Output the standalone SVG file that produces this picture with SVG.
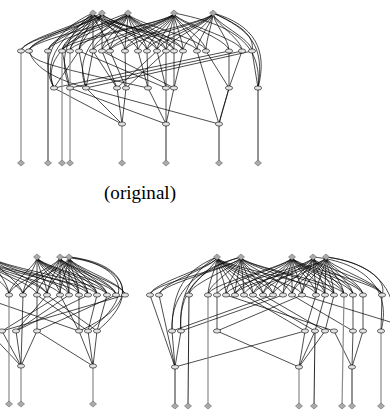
<svg xmlns="http://www.w3.org/2000/svg" xmlns:xlink="http://www.w3.org/1999/xlink" width="390" height="411" viewBox="0 0 390 411">
<style>
.k{fill:none;stroke:#000;stroke-width:0.7}
.g{fill:none;stroke:#8a8a8a;stroke-width:1.2}
.b{fill:none;stroke:#111;stroke-width:0.9}
.cap{font-family:"Liberation Serif","DejaVu Serif",serif;font-size:19px;fill:#000}
</style>
<defs>
<ellipse id="e" cx="0" cy="0" rx="3.6" ry="2.1" fill="#e2e2e2" stroke="#000" stroke-width="0.6"/>
<polygon id="d" points="0,-3 3.5,0 0,3 -3.5,0" fill="#aaa" stroke="#666" stroke-width="0.6"/>
</defs>
<rect width="390" height="411" fill="#fff"/>
<g id="connectors">
<!-- top graph -->
<path class="k" d="M93,13C93,22 21,39 21,51M93,13C93,22 29,39 29,51M93,13C93,22 48,39 48,51M93,13C93,22 62,39 62,51M93,13C93,22 70,39 70,51M93,13C93,22 79,39 79,51M93,13C93,22 93,39 93,51M93,13C93,22 110,39 110,51M93,13C93,22 138,39 138,51M93,13C93,22 157,39 157,51M93,13C93,22 166,39 166,51M93,13C93,22 197,39 197,51"/>
<path class="k" d="M102,13C102,22 21,39 21,51M102,13C102,22 29,39 29,51M102,13C102,22 48,39 48,51M102,13C102,22 62,39 62,51M102,13C102,22 70,39 70,51M102,13C102,22 79,39 79,51M102,13C102,22 102,39 102,51M102,13C102,22 125,39 125,51M102,13C102,22 147,39 147,51M102,13C102,22 174,39 174,51M102,13C102,22 183,39 183,51"/>
<path class="k" d="M128,13C128,22 29,39 29,51M128,13C128,22 48,39 48,51M128,13C128,22 62,39 62,51M128,13C128,22 79,39 79,51M128,13C128,22 93,39 93,51M128,13C128,22 102,39 102,51M128,13C128,22 110,39 110,51M128,13C128,22 125,39 125,51M128,13C128,22 138,39 138,51M128,13C128,22 147,39 147,51M128,13C128,22 157,39 157,51M128,13C128,22 166,39 166,51M128,13C128,22 174,39 174,51M128,13C128,22 183,39 183,51M128,13C128,22 206,39 206,51"/>
<path class="k" d="M174,13C174,22 62,39 62,51M174,13C174,22 70,39 70,51M174,13C174,22 93,39 93,51M174,13C174,22 102,39 102,51M174,13C174,22 110,39 110,51M174,13C174,22 125,39 125,51M174,13C174,22 138,39 138,51M174,13C174,22 147,39 147,51M174,13C174,22 157,39 157,51M174,13C174,22 166,39 166,51M174,13C174,22 174,39 174,51M174,13C174,22 183,39 183,51M174,13C174,22 197,39 197,51M174,13C174,22 206,39 206,51M174,13C174,22 229,39 229,51M174,13C174,22 242,39 242,51"/>
<path class="k" d="M213,13C213,22 110,39 110,51M213,13C213,22 125,39 125,51M213,13C213,22 147,39 147,51M213,13C213,22 157,39 157,51M213,13C213,22 166,39 166,51M213,13C213,22 183,39 183,51M213,13C213,22 197,39 197,51M213,13C213,22 206,39 206,51M213,13C213,22 229,39 229,51M213,13C213,22 242,39 242,51M213,13C213,22 252,39 252,51"/>
<path class="k" d="M93,13C55,30 38,60 54,88M102,13C60,32 42,62 54,88M128,13C80,30 40,55 54,88M93,13C65,35 58,60 70,88M128,13C90,35 75,60 86,88M213,13C250,30 265,45 258,88M213,13C255,25 268,50 258,88M174,13C235,25 262,45 258,88M213,13C240,25 255,35 252,51"/>
<path class="k" d="M29,51C35,70 60,80 86,88M79,51L86,88M79,51L54,88M62,51L70,88M93,51L86,88M93,51L117,88M102,51L117,88M110,51L126,88M125,51L126,88M138,51L148,88M147,51L148,88M157,51L166,88M166,51L166,88M174,51L174,88M183,51L174,88M157,51L117,88M166,51L126,88M229,51L54,88M242,51L70,88M252,51L86,88M206,51L229,88M229,51L229,88M242,51L229,88M252,51L258,88M29,51C32,62 50,66 148,88M79,51L166,88M102,51L174,88"/>
<path class="k" d="M54,88L122,124M86,88L122,124M117,88L122,124M126,88L122,124M148,88L166,124M166,88L166,124M174,88L166,124M70,88L166,124M229,88L219,124M229,88C226,100 222,110 219,124M197,51L219,124M86,88L219,124"/>
<path class="g" d="M21,51V163M62,51V163M70,51V163M122,124V163"/>
<path class="b" d="M48,51V163M166,124V163M219,124V163M258,88V163"/>
<!-- bottom-left graph -->
<path class="k" d="M-25,257C-25,266 9,283 9,295M-25,257C-25,266 23,283 23,295M-25,257C-25,266 37,283 37,295M-25,257C-25,266 47,283 47,295M-25,257C-25,266 60,283 60,295M-25,257C-25,266 79,283 79,295M-25,257C-25,266 97,283 97,295M-8,257C-8,266 9,283 9,295M-8,257C-8,266 23,283 23,295M-8,257C-8,266 47,283 47,295M-8,257C-8,266 69,283 69,295M-8,257C-8,266 88,283 88,295M-8,257C-8,266 107,283 107,295"/>
<path class="k" d="M37,257C37,266 9,283 9,295M37,257C37,266 23,283 23,295M37,257C37,266 37,283 37,295M37,257C37,266 47,283 47,295M37,257C37,266 60,283 60,295M37,257C37,266 69,283 69,295M37,257C37,266 79,283 79,295M37,257C37,266 88,283 88,295M37,257C37,266 97,283 97,295M37,257C37,266 107,283 107,295M37,257C37,266 116,283 116,295"/>
<path class="k" d="M60,257C60,266 9,283 9,295M60,257C60,266 23,283 23,295M60,257C60,266 37,283 37,295M60,257C60,266 47,283 47,295M60,257C60,266 60,283 60,295M60,257C60,266 69,283 69,295M60,257C60,266 79,283 79,295M60,257C60,266 88,283 88,295M60,257C60,266 97,283 97,295M60,257C60,266 107,283 107,295M60,257C60,266 116,283 116,295M60,257C60,266 125,283 125,295"/>
<path class="k" d="M69,257C69,266 23,283 23,295M69,257C69,266 47,283 47,295M69,257C69,266 60,283 60,295M69,257C69,266 69,283 69,295M69,257C69,266 79,283 79,295M69,257C69,266 88,283 88,295M69,257C69,266 97,283 97,295M69,257C69,266 107,283 107,295M69,257C69,266 116,283 116,295M69,257C69,266 125,283 125,295"/>
<path class="k" d="M69,257C120,262 145,292 97,331M60,257C115,260 145,290 88,331M69,257C125,265 150,300 79,331"/>
<path class="k" d="M23,295L21,366M37,295L37,331M47,295L16,331M60,295L2,331M79,295L79,331M88,295L16,331M97,295L88,331M107,295L97,331M116,295L37,331M125,295L2,331M37,295L88,331M47,295L97,331M60,295L79,331M69,295L16,331M-10,300L79,331"/>
<path class="k" d="M2,331L21,366M16,331L21,366M37,331L21,366M79,331L93,366M88,331L93,366M97,331L93,366M-12,331L21,366M37,331L93,366"/>
<path class="g" d="M9,295V404M21,366V404M93,366V404"/>
<!-- bottom-right graph -->
<path class="k" d="M217,257C217,266 150,283 150,295M217,257C217,266 159,283 159,295M217,257C217,266 189,283 189,295M217,257C217,266 208,283 208,295M217,257C217,266 217,283 217,295M217,257C217,266 226,283 226,295M217,257C217,266 235,283 235,295M217,257C217,266 244,283 244,295M217,257C217,266 253,283 253,295M217,257C217,266 263,283 263,295M217,257C217,266 273,283 273,295M217,257C217,266 283,283 283,295M217,257C217,266 302,283 302,295M217,257C217,266 325,283 325,295"/>
<path class="k" d="M241,257C241,266 150,283 150,295M241,257C241,266 159,283 159,295M241,257C241,266 189,283 189,295M241,257C241,266 208,283 208,295M241,257C241,266 226,283 226,295M241,257C241,266 235,283 235,295M241,257C241,266 244,283 244,295M241,257C241,266 253,283 253,295M241,257C241,266 263,283 263,295M241,257C241,266 273,283 273,295M241,257C241,266 292,283 292,295M241,257C241,266 316,283 316,295M241,257C241,266 334,283 334,295M241,257C241,266 344,283 344,295"/>
<path class="k" d="M292,257C292,266 208,283 208,295M292,257C292,266 217,283 217,295M292,257C292,266 235,283 235,295M292,257C292,266 253,283 253,295M292,257C292,266 263,283 263,295M292,257C292,266 273,283 273,295M292,257C292,266 283,283 283,295M292,257C292,266 292,283 292,295M292,257C292,266 302,283 302,295M292,257C292,266 316,283 316,295M292,257C292,266 325,283 325,295M292,257C292,266 334,283 334,295M292,257C292,266 344,283 344,295M292,257C292,266 353,283 353,295M292,257C292,266 363,283 363,295M292,257C292,266 382,283 382,295"/>
<path class="k" d="M313,257C313,266 226,283 226,295M313,257C313,266 244,283 244,295M313,257C313,266 263,283 263,295M313,257C313,266 283,283 283,295M313,257C313,266 292,283 292,295M313,257C313,266 302,283 302,295M313,257C313,266 316,283 316,295M313,257C313,266 325,283 325,295M313,257C313,266 334,283 334,295M313,257C313,266 344,283 344,295M313,257C313,266 353,283 353,295M313,257C313,266 363,283 363,295M313,257C313,266 382,283 382,295"/>
<path class="k" d="M326,257C326,266 235,283 235,295M326,257C326,266 253,283 253,295M326,257C326,266 273,283 273,295M326,257C326,266 292,283 292,295M326,257C326,266 302,283 302,295M326,257C326,266 316,283 316,295M326,257C326,266 325,283 325,295M326,257C326,266 334,283 334,295M326,257C326,266 344,283 344,295M326,257C326,266 353,283 353,295M326,257C326,266 363,283 363,295M326,257C326,266 382,283 382,295"/>
<path class="k" d="M217,257C185,270 172,290 172,331M241,257C195,270 178,295 181,331M217,257C190,272 178,300 181,331M241,257C200,268 170,290 172,331M326,257C370,262 398,285 395,331M313,257C365,262 392,290 381,331M326,257C365,262 388,280 382,295"/>
<path class="k" d="M150,295L175,367M159,295L175,367M217,295L217,331M273,295L172,331M283,295L181,331M302,295L217,331M244,295L305,331M253,295L315,331M263,295L325,331M226,295L334,331M292,295L353,331M316,295L305,331M325,295L315,331M334,295L325,331M353,295L353,331M363,295L363,331M382,295L381,331M302,295L400,325"/>
<path class="k" d="M172,331L175,367M181,331L175,367M305,331L175,367M217,331L299,367M305,331L299,367M315,331L299,367M325,331L299,367M334,331L352,367M353,331L352,367M363,331L352,367"/>
<path class="b" d="M175,367V406M189,295L188,406M315,331L314,406M352,367V406"/>
<path class="g" d="M208,295V406M299,367V406M344,295L342,406M381,331V406"/>
</g>
<!-- top graph nodes -->
<g id="o-t1"><use href="#d" x="93" y="13"/></g>
<g id="o-t2"><use href="#d" x="102" y="13"/></g>
<g id="o-t3"><use href="#d" x="128" y="13"/></g>
<g id="o-t4"><use href="#d" x="174" y="13"/></g>
<g id="o-t5"><use href="#d" x="213" y="13"/></g>
<g id="o-a1"><use href="#e" x="21" y="51"/></g>
<g id="o-a2"><use href="#e" x="29" y="51"/></g>
<g id="o-a3"><use href="#e" x="48" y="51"/></g>
<g id="o-a4"><use href="#e" x="62" y="51"/></g>
<g id="o-a5"><use href="#e" x="70" y="51"/></g>
<g id="o-a6"><use href="#e" x="79" y="51"/></g>
<g id="o-a7"><use href="#e" x="93" y="51"/></g>
<g id="o-a8"><use href="#e" x="102" y="51"/></g>
<g id="o-a9"><use href="#e" x="110" y="51"/></g>
<g id="o-a10"><use href="#e" x="125" y="51"/></g>
<g id="o-a11"><use href="#e" x="138" y="51"/></g>
<g id="o-a12"><use href="#e" x="147" y="51"/></g>
<g id="o-a13"><use href="#e" x="157" y="51"/></g>
<g id="o-a14"><use href="#e" x="166" y="51"/></g>
<g id="o-a15"><use href="#e" x="174" y="51"/></g>
<g id="o-a16"><use href="#e" x="183" y="51"/></g>
<g id="o-a17"><use href="#e" x="197" y="51"/></g>
<g id="o-a18"><use href="#e" x="206" y="51"/></g>
<g id="o-a19"><use href="#e" x="229" y="51"/></g>
<g id="o-a20"><use href="#e" x="242" y="51"/></g>
<g id="o-a21"><use href="#e" x="252" y="51"/></g>
<g id="o-b1"><use href="#e" x="54" y="88"/></g>
<g id="o-b2"><use href="#e" x="70" y="88"/></g>
<g id="o-b3"><use href="#e" x="86" y="88"/></g>
<g id="o-b4"><use href="#e" x="117" y="88"/></g>
<g id="o-b5"><use href="#e" x="126" y="88"/></g>
<g id="o-b6"><use href="#e" x="148" y="88"/></g>
<g id="o-b7"><use href="#e" x="166" y="88"/></g>
<g id="o-b8"><use href="#e" x="174" y="88"/></g>
<g id="o-b9"><use href="#e" x="229" y="88"/></g>
<g id="o-b10"><use href="#e" x="258" y="88"/></g>
<g id="o-c1"><use href="#e" x="122" y="124"/></g>
<g id="o-c2"><use href="#e" x="166" y="124"/></g>
<g id="o-c3"><use href="#e" x="219" y="124"/></g>
<g id="o-s1"><use href="#d" x="21" y="163"/></g>
<g id="o-s2"><use href="#d" x="48" y="163"/></g>
<g id="o-s3"><use href="#d" x="62" y="163"/></g>
<g id="o-s4"><use href="#d" x="70" y="163"/></g>
<g id="o-s5"><use href="#d" x="122" y="163"/></g>
<g id="o-s6"><use href="#d" x="166" y="163"/></g>
<g id="o-s7"><use href="#d" x="219" y="163"/></g>
<g id="o-s8"><use href="#d" x="258" y="163"/></g>
<text class="cap" x="140" y="199" text-anchor="middle" textLength="72" lengthAdjust="spacingAndGlyphs">(original)</text>
<!-- bottom-left graph nodes -->
<g id="l-t1"><use href="#d" x="37" y="257"/></g>
<g id="l-t2"><use href="#d" x="60" y="257"/></g>
<g id="l-t3"><use href="#d" x="69" y="257"/></g>
<g id="l-a1"><use href="#e" x="9" y="295"/></g>
<g id="l-a2"><use href="#e" x="23" y="295"/></g>
<g id="l-a3"><use href="#e" x="37" y="295"/></g>
<g id="l-a4"><use href="#e" x="47" y="295"/></g>
<g id="l-a5"><use href="#e" x="60" y="295"/></g>
<g id="l-a6"><use href="#e" x="69" y="295"/></g>
<g id="l-a7"><use href="#e" x="79" y="295"/></g>
<g id="l-a8"><use href="#e" x="88" y="295"/></g>
<g id="l-a9"><use href="#e" x="97" y="295"/></g>
<g id="l-a10"><use href="#e" x="107" y="295"/></g>
<g id="l-a11"><use href="#e" x="116" y="295"/></g>
<g id="l-a12"><use href="#e" x="125" y="295"/></g>
<g id="l-b1"><use href="#e" x="2" y="331"/></g>
<g id="l-b2"><use href="#e" x="16" y="331"/></g>
<g id="l-b3"><use href="#e" x="37" y="331"/></g>
<g id="l-b4"><use href="#e" x="79" y="331"/></g>
<g id="l-b5"><use href="#e" x="88" y="331"/></g>
<g id="l-b6"><use href="#e" x="97" y="331"/></g>
<g id="l-c1"><use href="#e" x="21" y="366"/></g>
<g id="l-c2"><use href="#e" x="93" y="366"/></g>
<g id="l-s1"><use href="#d" x="9" y="404"/></g>
<g id="l-s2"><use href="#d" x="21" y="404"/></g>
<g id="l-s3"><use href="#d" x="93" y="404"/></g>
<!-- bottom-right graph nodes -->
<g id="r-t1"><use href="#d" x="217" y="257"/></g>
<g id="r-t2"><use href="#d" x="241" y="257"/></g>
<g id="r-t3"><use href="#d" x="292" y="257"/></g>
<g id="r-t4"><use href="#d" x="313" y="257"/></g>
<g id="r-t5"><use href="#d" x="326" y="257"/></g>
<g id="r-a1"><use href="#e" x="150" y="295"/></g>
<g id="r-a2"><use href="#e" x="159" y="295"/></g>
<g id="r-a3"><use href="#e" x="189" y="295"/></g>
<g id="r-a4"><use href="#e" x="208" y="295"/></g>
<g id="r-a5"><use href="#e" x="217" y="295"/></g>
<g id="r-a6"><use href="#e" x="226" y="295"/></g>
<g id="r-a7"><use href="#e" x="235" y="295"/></g>
<g id="r-a8"><use href="#e" x="244" y="295"/></g>
<g id="r-a9"><use href="#e" x="253" y="295"/></g>
<g id="r-a10"><use href="#e" x="263" y="295"/></g>
<g id="r-a11"><use href="#e" x="273" y="295"/></g>
<g id="r-a12"><use href="#e" x="283" y="295"/></g>
<g id="r-a13"><use href="#e" x="292" y="295"/></g>
<g id="r-a14"><use href="#e" x="302" y="295"/></g>
<g id="r-a15"><use href="#e" x="316" y="295"/></g>
<g id="r-a16"><use href="#e" x="325" y="295"/></g>
<g id="r-a17"><use href="#e" x="334" y="295"/></g>
<g id="r-a18"><use href="#e" x="344" y="295"/></g>
<g id="r-a19"><use href="#e" x="353" y="295"/></g>
<g id="r-a20"><use href="#e" x="363" y="295"/></g>
<g id="r-a21"><use href="#e" x="382" y="295"/></g>
<g id="r-b1"><use href="#e" x="172" y="331"/></g>
<g id="r-b2"><use href="#e" x="181" y="331"/></g>
<g id="r-b3"><use href="#e" x="217" y="331"/></g>
<g id="r-b4"><use href="#e" x="305" y="331"/></g>
<g id="r-b5"><use href="#e" x="315" y="331"/></g>
<g id="r-b6"><use href="#e" x="325" y="331"/></g>
<g id="r-b7"><use href="#e" x="334" y="331"/></g>
<g id="r-b8"><use href="#e" x="353" y="331"/></g>
<g id="r-b9"><use href="#e" x="363" y="331"/></g>
<g id="r-b10"><use href="#e" x="381" y="331"/></g>
<g id="r-c1"><use href="#e" x="175" y="367"/></g>
<g id="r-c2"><use href="#e" x="299" y="367"/></g>
<g id="r-c3"><use href="#e" x="352" y="367"/></g>
<g id="r-s1"><use href="#d" x="175" y="406"/></g>
<g id="r-s2"><use href="#d" x="188" y="406"/></g>
<g id="r-s3"><use href="#d" x="208" y="406"/></g>
<g id="r-s4"><use href="#d" x="299" y="406"/></g>
<g id="r-s5"><use href="#d" x="314" y="406"/></g>
<g id="r-s6"><use href="#d" x="342" y="406"/></g>
<g id="r-s7"><use href="#d" x="352" y="406"/></g>
<g id="r-s8"><use href="#d" x="381" y="406"/></g>
</svg>
